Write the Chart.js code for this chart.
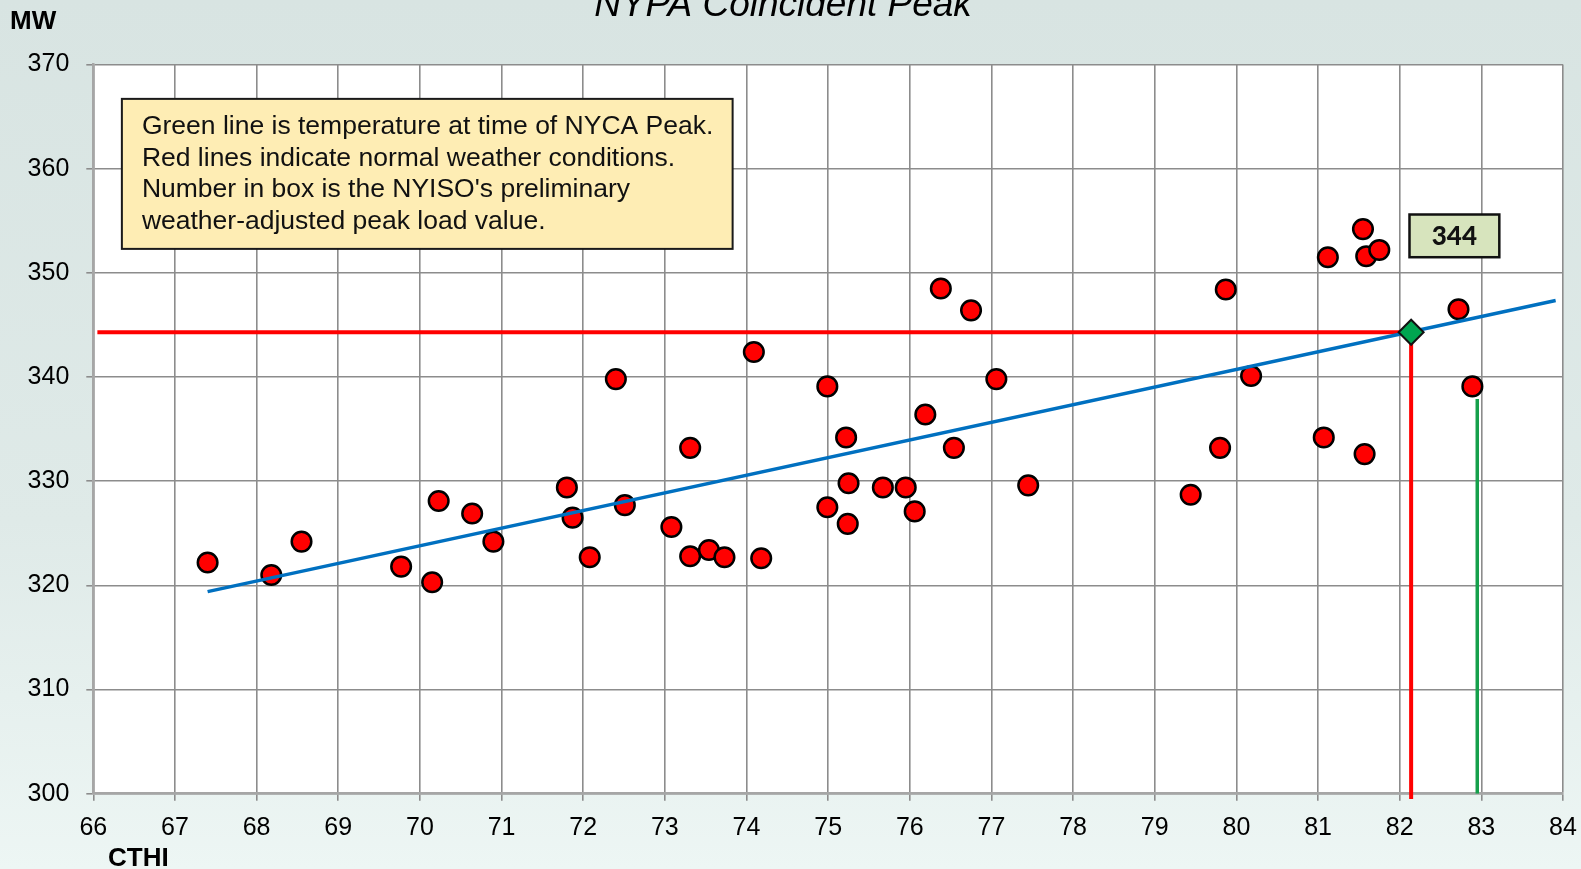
<!DOCTYPE html>
<html>
<head>
<meta charset="utf-8">
<script src="https://cdn.jsdelivr.net/npm/chart.js@4.4.1/dist/chart.umd.min.js"></script>
<style>
  html, body { margin: 0; padding: 0; background: #e2ecea; }
  #wrap { width: 1581px; height: 869px; }
</style>
</head>
<body>
<div id="wrap"><canvas id="peakChart" width="1581" height="869"></canvas></div>
<script>
// Historic summer peaks: CTHI (x) vs MW (y)
const peakX = [67.40, 68.18, 68.55, 69.77, 70.15, 70.23, 70.64, 70.90, 71.80, 71.87,
               72.08, 72.40, 72.51, 73.08, 73.31, 73.31, 73.54, 73.73, 74.09, 74.18,
               74.99, 74.99, 75.22, 75.24, 75.25, 75.67, 75.95, 76.06, 76.19, 76.38,
               76.54, 76.75, 77.06, 77.45, 79.44, 79.80, 79.87, 80.18, 81.07, 81.12,
               81.55, 81.57, 81.59, 81.75, 82.72, 82.89];
const peakY = [322.2, 321.0, 324.2, 321.8, 320.3, 328.1, 326.9, 324.2, 329.4, 326.5,
               322.7, 339.8, 327.7, 325.6, 333.2, 322.8, 323.4, 322.7, 342.4, 322.6,
               339.1, 327.5, 334.2, 325.9, 329.8, 329.4, 329.4, 327.1, 336.4, 348.5,
               333.2, 346.4, 339.8, 329.6, 328.7, 333.2, 348.4, 340.1, 334.2, 351.5,
               354.2, 332.6, 351.6, 352.2, 346.5, 339.1];

// regression line end points
const trendX = [67.40, 83.91];
const trendY = [319.4, 347.35];

// normal weather point (red lines) and temperature at NYCA peak (green line)
const normalX = 82.14;
const normalY = 344.3;
const redLineStartX = 66.05;
const redLineBottomY = 299.5;
const nycaPeakX = 82.95;
const nycaPeakTopY = 337.9;

const xTicks = [66, 84, 1];
const yTicks = [300, 370, 10];
const weatherAdjusted = '344';

const noteLines = [
    "Green line is temperature at time of NYCA Peak.",
    "Red lines indicate normal weather conditions.",
    "Number in box is the NYISO's preliminary",
    "weather-adjusted peak load value."
];
// note box corners in data units
const noteBox = { x1: 66.35, x2: 73.83, y1: 366.7, y2: 352.3 };
const valueBox = { x1: 82.12, x2: 83.22, y1: 355.6, y2: 351.5 };

const FONT = "'Liberation Sans', Arial, sans-serif";

function toPoints(xs, ys) {
    return xs.map((x, i) => ({ x: x, y: ys[i] }));
}

// page background + white plot area
const backgroundPlugin = {
    id: 'backgroundPlugin',
    beforeDraw(chart) {
        const { ctx, chartArea: a, width, height } = chart;
        ctx.save();
        const g = ctx.createLinearGradient(0, 0, 0, height);
        g.addColorStop(0, '#d8e4e2');
        g.addColorStop(0.6, '#dfeae8');
        g.addColorStop(1, '#edf6f4');
        ctx.fillStyle = g;
        ctx.fillRect(0, 0, width, height);
        ctx.fillStyle = '#ffffff';
        ctx.fillRect(a.left, a.top, a.right - a.left, a.bottom - a.top);
        ctx.restore();
    }
};

// titles and text boxes
const textPlugin = {
    id: 'textPlugin',
    afterDraw(chart) {
        const { ctx, scales } = chart;
        const sx = scales.x, sy = scales.y;
        ctx.save();

        ctx.fillStyle = '#000';
        ctx.textBaseline = 'alphabetic';
        ctx.textAlign = 'center';
        ctx.font = 'italic 37px ' + FONT;
        ctx.fillText('NYPA Coincident Peak', 783, 16);

        ctx.textAlign = 'left';
        ctx.font = 'bold 26px ' + FONT;
        ctx.fillText('MW', 10, 29);
        ctx.fillText('CTHI', 108, 866);

        // explanation note
        let l = sx.getPixelForValue(noteBox.x1), r = sx.getPixelForValue(noteBox.x2);
        let t = sy.getPixelForValue(noteBox.y1), b = sy.getPixelForValue(noteBox.y2);
        ctx.fillStyle = '#feedb4';
        ctx.fillRect(l, t, r - l, b - t);
        ctx.lineWidth = 2;
        ctx.strokeStyle = '#1a1a1a';
        ctx.strokeRect(l, t, r - l, b - t);
        ctx.fillStyle = '#111';
        ctx.font = '26.5px ' + FONT;
        noteLines.forEach((line, i) => {
            ctx.fillText(line, l + 20, t + 35 + i * 31.7);
        });

        // weather-adjusted value box
        l = sx.getPixelForValue(valueBox.x1); r = sx.getPixelForValue(valueBox.x2);
        t = sy.getPixelForValue(valueBox.y1); b = sy.getPixelForValue(valueBox.y2);
        ctx.fillStyle = '#d7e4bd';
        ctx.fillRect(l, t, r - l, b - t);
        ctx.lineWidth = 2.5;
        ctx.strokeStyle = '#111';
        ctx.strokeRect(l, t, r - l, b - t);
        ctx.fillStyle = '#111';
        ctx.textAlign = 'center';
        ctx.textBaseline = 'middle';
        ctx.font = '900 26px Lato, ' + FONT;
        ctx.fillText(weatherAdjusted, (l + r) / 2, (t + b) / 2 + 1);

        ctx.restore();
    }
};

const chart = new Chart(document.getElementById('peakChart'), {
    type: 'scatter',
    data: {
        datasets: [
            {
                label: 'Normal weather',
                data: [{ x: normalX, y: normalY }],
                pointStyle: 'rectRot',
                pointRadius: 12.5,
                pointBackgroundColor: '#00a550',
                pointBorderColor: '#111',
                pointBorderWidth: 2,
                order: 0
            },
            {
                label: 'Trend',
                type: 'line',
                data: toPoints(trendX, trendY),
                borderColor: '#0070c0',
                borderWidth: 3.5,
                pointRadius: 0,
                order: 1
            },
            {
                label: 'Normal lines',
                type: 'line',
                data: [
                    { x: redLineStartX, y: normalY },
                    { x: normalX, y: normalY },
                    { x: normalX, y: redLineBottomY }
                ],
                borderColor: '#ff0000',
                borderWidth: 4,
                pointRadius: 0,
                clip: false,
                order: 2
            },
            {
                label: 'NYCA peak',
                type: 'line',
                data: [{ x: nycaPeakX, y: nycaPeakTopY }, { x: nycaPeakX, y: yTicks[0] }],
                borderColor: '#16a04c',
                borderWidth: 3.5,
                pointRadius: 0,
                order: 3
            },
            {
                label: 'Peaks',
                data: toPoints(peakX, peakY),
                pointRadius: 9.8,
                pointBackgroundColor: '#ff0000',
                pointBorderColor: '#000',
                pointBorderWidth: 2.5,
                order: 4
            }
        ]
    },
    options: {
        responsive: false,
        animation: false,
        events: [],
        layout: { padding: { top: 64.5, right: 18, left: 0, bottom: 0 } },
        plugins: {
            legend: { display: false },
            tooltip: { enabled: false }
        },
        scales: {
            x: {
                type: 'linear',
                min: xTicks[0],
                max: xTicks[1],
                ticks: {
                    stepSize: xTicks[2],
                    padding: 12,
                    color: '#000',
                    font: { family: FONT, size: 25 }
                },
                grid: { color: '#8c8c8c', lineWidth: 1.6, tickLength: 7 },
                border: { color: '#a6a6a6', width: 2.5 },
                afterFit(scale) {
                    scale.height = 75.3;
                    scale.paddingLeft = 0;
                    scale.paddingRight = 0;
                }
            },
            y: {
                min: yTicks[0],
                max: yTicks[1],
                ticks: {
                    stepSize: yTicks[2],
                    padding: 17,
                    color: '#000',
                    font: { family: FONT, size: 25 }
                },
                grid: { color: '#8c8c8c', lineWidth: 1.6, tickLength: 7 },
                border: { color: '#a6a6a6', width: 2.5 },
                afterFit(scale) {
                    scale.width = 93.3;
                    scale.paddingTop = 0;
                    scale.paddingBottom = 0;
                }
            }
        }
    },
    plugins: [backgroundPlugin, textPlugin]
});
</script>
</body>
</html>
